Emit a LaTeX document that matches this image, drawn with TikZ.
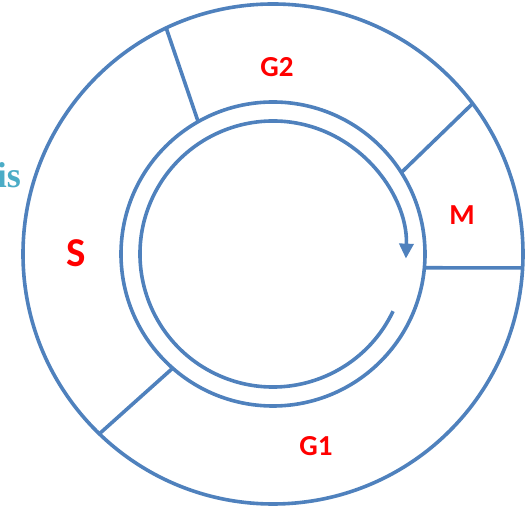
\documentclass[tikz,border=0pt]{standalone}
\usepackage{fontspec}
\setmainfont{Carlito}[BoldFont={Carlito Bold}]
\newfontfamily\isfont{Liberation Serif}[BoldFont={Liberation Serif Bold}]
\usetikzlibrary{arrows.meta,calc}
\definecolor{ringblue}{HTML}{4F81BD}
\definecolor{phasered}{HTML}{FF0000}
\definecolor{tealtext}{HTML}{4BACC6}
\tikzset{
  ring/.style={draw=ringblue, line width=3.6pt},
  divider/.style={draw=ringblue, line width=3.6pt},
  phase/.style={text=phasered, font=\bfseries\fontsize{29}{31}\selectfont, inner sep=0pt},
}
\begin{document}
\begin{tikzpicture}[x=1pt,y=1pt]
\useasboundingbox (0,0) rectangle (525,508);
\coordinate (C) at (273,254);
% circles
\draw[ring] (C) circle[radius=250];
\draw[ring] (C) circle[radius=152];
% dividers
\coordinate (d1o) at ($(C)+(115.3:250)$);
\coordinate (d1i) at ($(C)+(119.5:152)$);
\coordinate (d2o) at ($(C)+(37:250)$);
\coordinate (d2i) at ($(C)+(32.4:152)$);
\coordinate (d3o) at ($(C)+(-3.2:250)$);
\coordinate (d3i) at ($(C)+(-5.2:152)$);
\coordinate (d4o) at ($(C)+(-134:250)$);
\coordinate (d4i) at ($(C)+(-131.3:152)$);
\draw[divider] (d1o) -- (d1i);
\draw[divider] (d2o) -- (d2i);
\draw[divider] (d3o) -- (d3i);
\draw[divider] (d4o) -- (d4i);
% inner arrow arc
\coordinate (arcstart) at ($(C)+(-25.5:133)$);
\draw[ring, -{Triangle[length=15pt,width=14pt]}] (arcstart) arc[start angle=-25.5, end angle=-362, radius=133];
% labels
\node[phase] (g2) at (277,441) {G2};
\node[phase] (m) at (462,293) {M};
\node[phase] (g1) at (316,62) {G1};
\node[phase, font=\bfseries\fontsize{41}{43}\selectfont] (s) at (76,255) {S};
\node[anchor=base east, inner sep=0pt, text=tealtext, font=\isfont\bfseries\fontsize{36}{38}\selectfont] (is) at (21,320) {is};
\end{tikzpicture}
\end{document}
